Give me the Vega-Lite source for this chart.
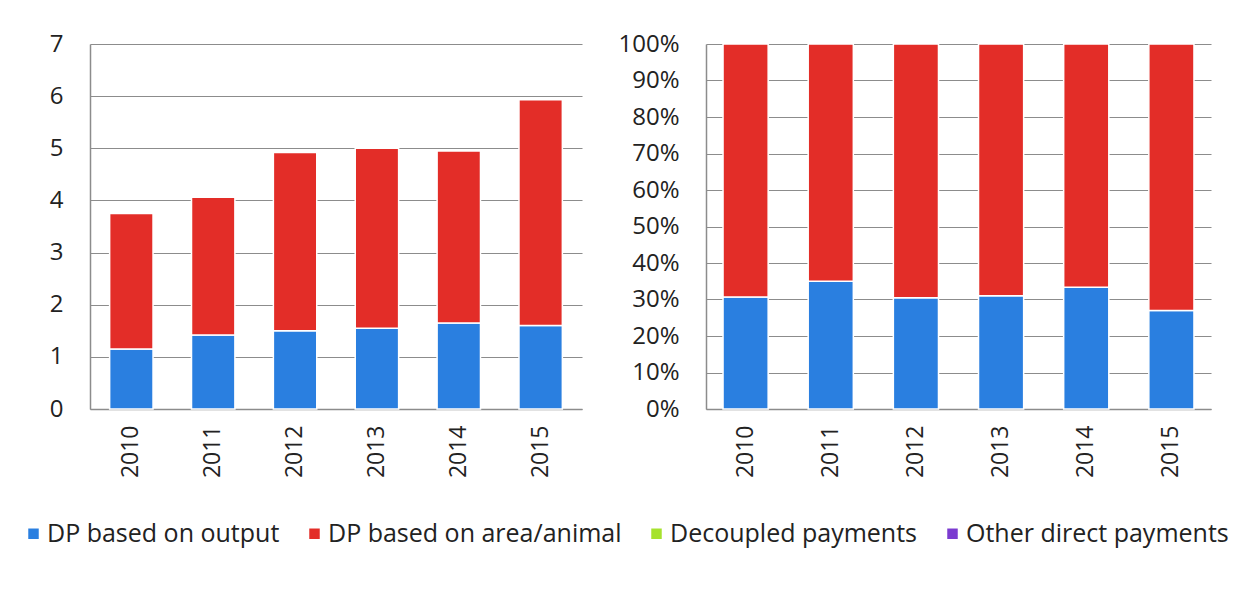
{
  "$schema": "https://vega.github.io/schema/vega-lite/v6.json",
  "background": "white",
  "padding": {"left": 21, "top": 32, "right": 5, "bottom": 5},
  "data": {
    "values": [
      {"year": "2010", "type": "DP based on output", "value": 1.15},
      {"year": "2010", "type": "DP based on area/animal", "value": 2.60},
      {"year": "2011", "type": "DP based on output", "value": 1.42},
      {"year": "2011", "type": "DP based on area/animal", "value": 2.64},
      {"year": "2012", "type": "DP based on output", "value": 1.50},
      {"year": "2012", "type": "DP based on area/animal", "value": 3.42},
      {"year": "2013", "type": "DP based on output", "value": 1.55},
      {"year": "2013", "type": "DP based on area/animal", "value": 3.45},
      {"year": "2014", "type": "DP based on output", "value": 1.65},
      {"year": "2014", "type": "DP based on area/animal", "value": 3.30},
      {"year": "2015", "type": "DP based on output", "value": 1.60},
      {"year": "2015", "type": "DP based on area/animal", "value": 4.33}
    ]
  },
  "config": {
    "font": "Open Sans",
    "view": {"stroke": null},
    "axis": {
      "labelFont": "Open Sans",
      "labelColor": "#222222",
      "labelFontSize": 24,
      "domainColor": "#8c8c8c",
      "domainWidth": 1.5,
      "gridColor": "#8c8c8c",
      "gridWidth": 1.2,
      "gridOpacity": 1,
      "ticks": false,
      "title": null
    }
  },
  "spacing": 35,
  "hconcat": [
    {
      "width": 492,
      "height": 365,
      "mark": {"type": "bar", "stroke": "white", "strokeWidth": 1.5},
      "encoding": {
        "x": {
          "field": "year", "type": "nominal",
          "scale": {"paddingInner": 0.47, "paddingOuter": 0.24},
          "axis": {"labelAngle": -90, "labelPadding": 16, "grid": false, "labelBaseline": "middle", "labelFontSize": 23}
        },
        "y": {
          "field": "value", "type": "quantitative", "stack": "zero",
          "scale": {"domain": [0, 7], "nice": false},
          "axis": {"values": [0, 1, 2, 3, 4, 5, 6, 7], "labelPadding": 27, "grid": true}
        },
        "color": {
          "field": "type", "type": "nominal",
          "scale": {
            "domain": ["DP based on output", "DP based on area/animal", "Decoupled payments", "Other direct payments"],
            "range": ["#2a7fe0", "#e32d28", "#a6e22e", "#7b3bd0"]
          },
          "legend": {
            "orient": "none",
            "legendX": -69,
            "legendY": 477,
            "direction": "horizontal",
            "columns": 4,
            "title": null,
            "symbolType": "square",
            "symbolSize": 110,
            "symbolStrokeWidth": 0,
            "labelFont": "Open Sans",
            "labelFontSize": 25,
            "labelColor": "#222222",
            "labelOffset": 1,
            "columnPadding": 22,
            "labelLimit": 400
          }
        },
        "order": {"field": "type", "sort": "descending"}
      }
    },
    {
      "width": 505,
      "height": 365,
      "mark": {"type": "bar", "stroke": "white", "strokeWidth": 1.5},
      "encoding": {
        "x": {
          "field": "year", "type": "nominal",
          "scale": {"paddingInner": 0.47, "paddingOuter": 0.2},
          "axis": {"labelAngle": -90, "labelPadding": 16, "grid": false, "labelBaseline": "middle", "labelFontSize": 23}
        },
        "y": {
          "field": "value", "type": "quantitative", "stack": "normalize",
          "scale": {"domain": [0, 1], "nice": false},
          "axis": {"values": [0, 0.1, 0.2, 0.3, 0.4, 0.5, 0.6, 0.7, 0.8, 0.9, 1], "format": ".0%", "labelPadding": 27, "grid": true}
        },
        "color": {"field": "type", "type": "nominal"},
        "order": {"field": "type", "sort": "descending"}
      }
    }
  ]
}
